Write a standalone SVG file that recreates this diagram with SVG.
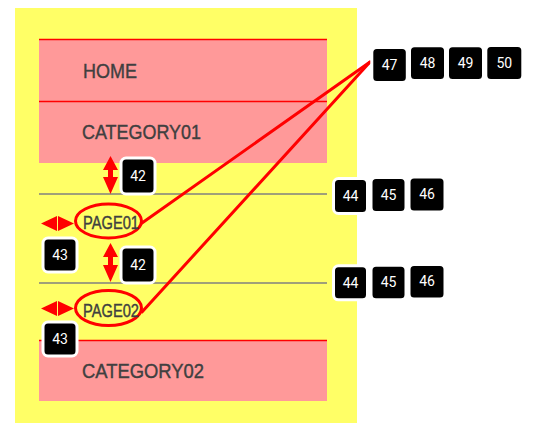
<svg xmlns="http://www.w3.org/2000/svg" width="535" height="423" viewBox="0 0 535 423">
<defs>
<style>
.bg{fill:#ffff66}
.pink{fill:#ff9999}
.redline{stroke:#ff0000;stroke-width:1.5;fill:none}
.gray{stroke:#808080;stroke-width:1.5;fill:none}
.lbl{font-family:"Liberation Sans",Arial,sans-serif;fill:#404040;stroke:#404040;stroke-width:0.4}
.big{font-size:20.5px}
.pg{font-size:18px}
.ell{fill:none;stroke:#ff0000;stroke-width:3}
.arrow{fill:#ff0000}
.conn{stroke:#ff0000;stroke-width:3;fill:none;stroke-linecap:round}
.badge{fill:#000;stroke:#fff;stroke-width:3}
.num{font-family:Roboto,"Liberation Sans",sans-serif;font-size:14px;fill:#fff;text-anchor:middle}
</style>
</defs>
<rect class="bg" x="15" y="8" width="342" height="415"/>

<g id="home">
<rect class="pink" x="39" y="39" width="288" height="62"/>
<line class="redline" x1="39" y1="39.5" x2="327" y2="39.5"/>
<text class="lbl big" x="83" y="78" textLength="54" lengthAdjust="spacingAndGlyphs">HOME</text>
</g>
<g id="category01">
<rect class="pink" x="39" y="101" width="288" height="62"/>
<line class="redline" x1="39" y1="101.5" x2="327" y2="101.5"/>
<text class="lbl big" x="82" y="139" textLength="119" lengthAdjust="spacingAndGlyphs">CATEGORY01</text>
</g>
<g id="separator1"><line class="gray" x1="39" y1="194" x2="327" y2="194"/></g>
<g id="separator2"><line class="gray" x1="39" y1="283" x2="327" y2="283"/></g>
<g id="page01">
<ellipse class="ell" cx="108.5" cy="221" rx="33" ry="17"/>
<text class="lbl pg" x="83" y="229" textLength="56" lengthAdjust="spacingAndGlyphs">PAGE01</text>
</g>
<g id="page02">
<ellipse class="ell" cx="108.5" cy="308" rx="33" ry="17.5"/>
<text class="lbl pg" x="83" y="317" textLength="56" lengthAdjust="spacingAndGlyphs">PAGE02</text>
</g>
<g id="category02">
<rect class="pink" x="39" y="340" width="288" height="61"/>
<line class="redline" x1="39" y1="340.5" x2="327" y2="340.5"/>
<text class="lbl big" x="82" y="378" textLength="122" lengthAdjust="spacingAndGlyphs">CATEGORY02</text>
</g>

<g id="connectors">
<line class="conn" x1="142" y1="223" x2="370" y2="62"/>
<line class="conn" x1="142" y1="312" x2="370" y2="62"/>
</g>

<g id="arrows">
<path class="arrow" d="M110.5,156 L118,170 L113,170 L113,177 L118,177 L110.5,194 L103,177 L108,177 L108,170 L103,170 Z"/>
<path class="arrow" d="M110.5,243 L118,257 L113,257 L113,265 L118,265 L110.5,282 L103,265 L108,265 L108,257 L103,257 Z"/>
<path class="arrow" d="M41,223.5 L57,216 L57,231 Z M58,216 L74,223.5 L58,231 Z"/>
<path class="arrow" d="M41,308.5 L57,301 L57,316 Z M58,301 L74,308.5 L58,316 Z"/>
</g>

<g id="badge42a"><rect class="badge" x="121" y="158" width="34" height="36" rx="5"/><text class="num" x="138" y="181">42</text></g>
<g id="badge42b"><rect class="badge" x="121" y="247" width="34" height="36" rx="5"/><text class="num" x="138" y="270">42</text></g>
<g id="badge43a"><rect class="badge" x="43" y="238" width="34" height="34" rx="5"/><text class="num" x="60" y="260">43</text></g>
<g id="badge43b"><rect class="badge" x="43" y="322" width="34" height="34" rx="5"/><text class="num" x="60" y="344">43</text></g>

<g id="badge44a"><rect class="badge" x="333.5" y="178.5" width="34" height="35" rx="5"/><text class="num" x="350.5" y="201">44</text></g>
<g id="badge45a"><rect class="badge" x="371" y="177.5" width="35" height="35" rx="5"/><text class="num" x="388.5" y="200">45</text></g>
<g id="badge46a"><rect class="badge" x="409" y="177" width="36" height="35" rx="5"/><text class="num" x="427" y="199">46</text></g>

<g id="badge44b"><rect class="badge" x="333.5" y="265.8" width="34" height="34" rx="5"/><text class="num" x="350.5" y="288">44</text></g>
<g id="badge45b"><rect class="badge" x="371" y="265.2" width="35" height="34.5" rx="5"/><text class="num" x="388.5" y="287">45</text></g>
<g id="badge46b"><rect class="badge" x="409" y="264.5" width="36" height="34.5" rx="5"/><text class="num" x="427" y="286">46</text></g>

<g id="badge47"><rect class="badge" x="371.8" y="47.5" width="35.5" height="35" rx="5"/><text class="num" x="389.5" y="70">47</text></g>
<g id="badge48"><rect class="badge" x="409.5" y="45.8" width="36" height="34.7" rx="5"/><text class="num" x="427.5" y="68">48</text></g>
<g id="badge49"><rect class="badge" x="447.5" y="45.8" width="36" height="34.7" rx="5"/><text class="num" x="465.5" y="68">49</text></g>
<g id="badge50"><rect class="badge" x="485.8" y="45.5" width="37" height="35" rx="5"/><text class="num" x="504.3" y="68">50</text></g>
</svg>
